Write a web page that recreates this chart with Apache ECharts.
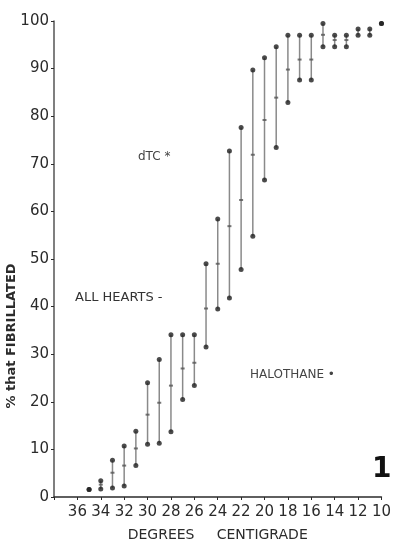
<!DOCTYPE html>
<html>
<head>
<meta charset="utf-8">
<script src="https://cdn.jsdelivr.net/npm/echarts@6/dist/echarts.min.js"></script>
<style>
  html, body { margin: 0; padding: 0; background: #fff; }
  #chart { width: 394px; height: 547px; }
</style>
</head>
<body>
<div id="chart"></div>
<script>
// temperatures (degrees C) and the range of % fibrillated at each
var temps = [35, 34, 33, 32, 31, 30, 29, 28, 27, 26, 25, 24, 23, 22, 21, 20, 19, 18, 17, 16, 15, 14, 13, 12, 11, 10];
var highs = [1.6, 3.4, 7.7, 10.7, 13.8, 24.0, 28.9, 34.1, 34.1, 34.1, 49.0, 58.4, 72.7, 77.6, 89.7, 92.3, 94.6, 97.0, 97.0, 97.0, 99.5, 97.0, 97.0, 98.3, 98.3, 99.5];
var means = [null, 2.6, 5.1, 6.6, 10.2, 17.3, 19.8, 23.4, 27.0, 28.2, 39.6, 49.0, 56.9, 62.4, 71.9, 79.2, 83.9, 89.8, 91.9, 91.9, 97.1, 96.0, 96.0, null, null, null];
var lows = [1.6, 1.7, 1.9, 2.3, 6.6, 11.1, 11.3, 13.7, 20.5, 23.4, 31.5, 39.5, 41.8, 47.8, 54.8, 66.6, 73.4, 82.9, 87.6, 87.6, 94.6, 94.6, 94.6, 97.0, 97.0, 99.5];
var xTicks = [36, 34, 32, 30, 28, 26, 24, 22, 20, 18, 16, 14, 12, 10];

var ink = '#2b2b2b';
var font = 'DejaVu Sans';

var chart = echarts.init(document.getElementById('chart'));

var rangeData = [];
var highData = [];
var lowData = [];
var meanData = [];
for (var i = 0; i < temps.length; ++i) {
    rangeData.push([temps[i], lows[i], highs[i]]);
    highData.push([temps[i], highs[i]]);
    lowData.push([temps[i], lows[i]]);
    if (means[i] != null) {
        meanData.push([temps[i], means[i]]);
    }
}

var option = {
    backgroundColor: '#fff',
    animation: false,
    grid: { left: 54, right: 7, top: 21, bottom: 39 },
    xAxis: {
        type: 'value',
        inverse: true,
        min: 10,
        max: 38,
        interval: 2,
        name: 'DEGREES     CENTIGRADE',
        nameLocation: 'middle',
        nameGap: 31,
        nameTextStyle: { color: ink, fontFamily: font, fontSize: 14 },
        splitLine: { show: false },
        axisLine: { lineStyle: { color: ink, width: 1.5 } },
        axisTick: { length: 3, lineStyle: { color: ink } },
        axisLabel: {
            color: ink,
            fontFamily: font,
            fontSize: 15,
            margin: 8,
            formatter: function (v) {
                return xTicks.indexOf(v) >= 0 ? String(v) : '';
            }
        }
    },
    yAxis: {
        type: 'value',
        min: 0,
        max: 100,
        interval: 10,
        splitLine: { show: false },
        axisLine: { show: true, lineStyle: { color: '#555', width: 1.5 } },
        axisTick: { show: true, length: 3, lineStyle: { color: ink } },
        axisLabel: { color: ink, fontFamily: font, fontSize: 15, margin: 5 }
    },
    graphic: [
        {
            type: 'text',
            x: 12, y: 336,
            rotation: Math.PI / 2,
            style: {
                text: '% that FIBRILLATED',
                fill: ink,
                font: 'bold 13px "DejaVu Sans"',
                align: 'center',
                verticalAlign: 'middle'
            }
        },
        {
            type: 'text', x: 138, y: 157,
            style: { text: 'dTC *', fill: '#444', font: '12px "DejaVu Sans"', verticalAlign: 'middle' }
        },
        {
            type: 'text', x: 75, y: 298,
            style: { text: 'ALL HEARTS -', fill: '#333', font: '13px "DejaVu Sans"', verticalAlign: 'middle' }
        },
        {
            type: 'text', x: 250, y: 375,
            style: { text: 'HALOTHANE •', fill: '#444', font: '12px "DejaVu Sans"', verticalAlign: 'middle' }
        },
        {
            type: 'text', x: 372, y: 470,
            style: { text: '1', fill: '#111', font: 'bold 28px "DejaVu Sans"', verticalAlign: 'middle' }
        }
    ],
    series: [
        {
            type: 'custom',
            data: rangeData,
            renderItem: function (params, api) {
                var lo = api.coord([api.value(0), api.value(1)]);
                var hi = api.coord([api.value(0), api.value(2)]);
                return {
                    type: 'line',
                    shape: { x1: lo[0], y1: lo[1], x2: hi[0], y2: hi[1] },
                    style: { stroke: '#8a8a8a', lineWidth: 1.5 }
                };
            },
            z: 1
        },
        {
            type: 'scatter',
            data: highData,
            symbol: 'circle',
            symbolSize: 5,
            itemStyle: { color: '#1e1e1e' },
            z: 3
        },
        {
            type: 'scatter',
            data: lowData,
            symbol: 'circle',
            symbolSize: 5,
            itemStyle: { color: '#1e1e1e' },
            z: 3
        },
        {
            type: 'scatter',
            data: meanData,
            symbol: 'rect',
            symbolSize: [4, 2],
            itemStyle: { color: '#555' },
            z: 3
        }
    ]
};
chart.setOption(option);
</script>
</body>
</html>
